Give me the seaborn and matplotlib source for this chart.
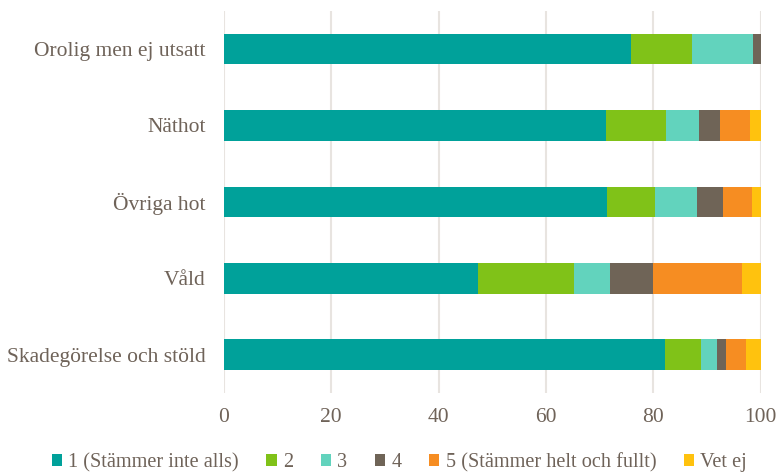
import matplotlib
matplotlib.use("Agg")
import matplotlib.pyplot as plt
import seaborn as sns
import numpy as np
import pandas as pd
from matplotlib.patches import Patch

categories = ["Orolig men ej utsatt", "Näthot", "Övriga hot", "Våld", "Skadegörelse och stöld"]
series_names = ["1 (Stämmer inte alls)", "2", "3", "4", "5 (Stämmer helt och fullt)", "Vet ej"]
s1 = [75.8, 71.1, 71.3, 47.4, 82.2]
s2 = [11.4, 11.3, 9.0, 17.9, 6.6]
s3 = [11.4, 6.2, 7.8, 6.7, 3.1]
s4 = [1.4, 3.8, 4.9, 8.0, 1.6]
s5 = [0.0, 5.7, 5.3, 16.5, 3.8]
s6 = [0.0, 1.9, 1.7, 3.5, 2.7]
colors = ["#00a19a", "#80c218", "#62d3bd", "#6f6457", "#f68d22", "#ffc20e"]

sns.set_theme(style="white")
plt.rcParams['font.family'] = ['Liberation Serif', 'DejaVu Serif']
text_color = "#6f6359"

fig = plt.figure(figsize=(7.77, 4.75), dpi=100)
ax = fig.add_axes([0.288, 0.173, 0.691, 0.804])

values = np.array([s1, s2, s3, s4, s5, s6])
cum = np.cumsum(values, axis=0)
for i in range(len(series_names) - 1, -1, -1):
    df = pd.DataFrame({"cat": categories, "val": cum[i]})
    sns.barplot(data=df, y="cat", x="val", orient="h", color=colors[i],
                width=0.4, ax=ax, saturation=1, edgecolor="none", linewidth=0)

ax.set_xlim(0, 100)
ax.set_ylim(4.5, -0.5)
ax.set_xticks(np.arange(0, 101, 20))
ax.xaxis.grid(True, color="#e8e4e0", linewidth=1.5)
ax.set_axisbelow(True)
for sp in ax.spines.values():
    sp.set_visible(False)
ax.set_xlabel("")
ax.set_ylabel("")
ax.tick_params(axis="both", length=0, labelsize=15.5, colors=text_color)
ax.tick_params(axis="x", pad=11)
ax.tick_params(axis="y", pad=13)

handles = [Patch(facecolor=c, edgecolor="none") for c in colors]
fig.legend(handles, series_names, loc="center", bbox_to_anchor=(0.514, 0.026),
           ncol=6, frameon=False, fontsize=14.6, handlelength=0.52, handleheight=0.52,
           handletextpad=0.3, columnspacing=1.35, labelcolor=text_color,
           borderpad=0.1)

fig.savefig("out.png", dpi=100)
